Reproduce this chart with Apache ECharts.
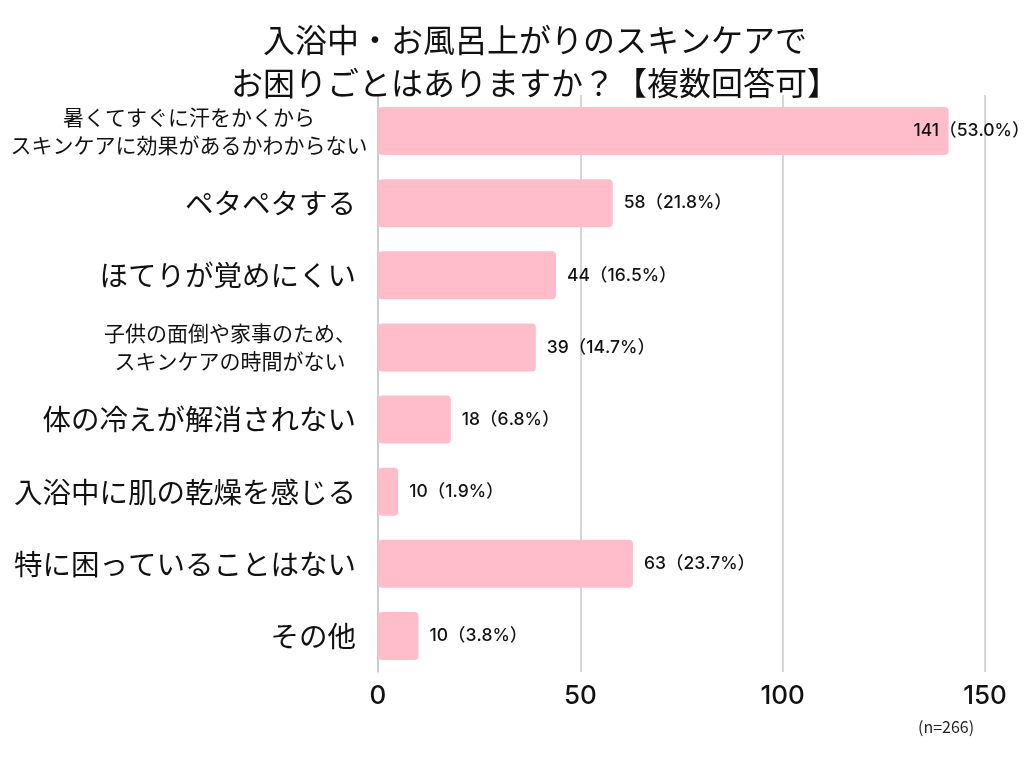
<!DOCTYPE html>
<html>
<head>
<meta charset="utf-8">
<script src="https://cdn.jsdelivr.net/npm/echarts@6/dist/echarts.min.js"></script>
<style>
    html, body { margin: 0; padding: 0; background: #fff; }
    #ET1 { width: 1024px; height: 768px; }
</style>
</head>
<body>
<div id="ET1"></div>
<script>
var categories = [
    '暑くてすぐに汗をかくから\nスキンケアに効果があるかわからない',
    'ペタペタする',
    'ほてりが覚めにくい',
    '子供の面倒や家事のため、\nスキンケアの時間がない',
    '体の冷えが解消されない',
    '入浴中に肌の乾燥を感じる',
    '特に困っていることはない',
    'その他'
];
// bar lengths as drawn in the picture
var values = [141, 58, 44, 39, 18, 5, 63, 10];
// label texts as printed next to the bars
var labelTexts = ['141（53.0%）', '58（21.8%）', '44（16.5%）', '39（14.7%）', '18（6.8%）', '10（1.9%）', '63（23.7%）', '10（3.8%）'];
var xTicks = [0, 50, 100, 150];

~function () {
    var myChart = echarts.init(ET1);
    var numFont = 'Inter, "Noto Sans CJK JP", sans-serif';
    var jpFont = '"Noto Sans CJK JP", sans-serif';
    var option = {
        animation: false,
        backgroundColor: '#fff',
        title: {
            text: '入浴中・お風呂上がりのスキンケアで\nお困りごとはありますか？【複数回答可】',
            left: 530,
            textAlign: 'center',
            top: 13,
            textStyle: {
                fontFamily: jpFont,
                fontSize: 32,
                lineHeight: 43,
                fontWeight: 'normal',
                color: '#111'
            }
        },
        graphic: [
            {
                type: 'text',
                left: 918,
                top: 719,
                style: {
                    text: '(n=266)',
                    fontFamily: '"Noto Sans CJK JP", sans-serif',
                    fontSize: 16,
                    fill: '#222'
                }
            }
        ],
        grid: {
            left: 378,
            right: 39,
            top: 95,
            bottom: 96,
            outerBoundsMode: 'none'
        },
        xAxis: {
            type: 'value',
            min: xTicks[0],
            max: xTicks[xTicks.length - 1],
            interval: xTicks[1] - xTicks[0],
            axisLine: {show: false},
            axisTick: {show: false},
            axisLabel: {
                margin: 11,
                fontFamily: numFont,
                fontSize: 26,
                fontWeight: 500,
                color: '#111'
            },
            splitLine: {
                lineStyle: {color: '#c8c8c8', width: 1.5}
            }
        },
        yAxis: {
            type: 'category',
            inverse: true,
            data: categories,
            axisLine: {lineStyle: {color: '#c8c8c8', width: 1.5}},
            axisTick: {show: false},
            axisLabel: {
                margin: 22,
                formatter: function (v, idx) {
                    if (v.indexOf('\n') >= 0) {
                        // the widest label runs a bit past the others
                        var st = idx === 0 ? 'w' : 's';
                        return v.split('\n').map(function (s) {
                            return '{' + st + '|' + s + '}';
                        }).join('\n');
                    }
                    return '{b|' + v + '}';
                },
                rich: {
                    b: {
                        fontFamily: jpFont,
                        fontSize: 28.5,
                        color: '#111',
                        lineHeight: 34
                    },
                    s: {
                        fontFamily: jpFont,
                        fontSize: 21,
                        color: '#111',
                        lineHeight: 28,
                        align: 'center'
                    },
                    w: {
                        fontFamily: jpFont,
                        fontSize: 21,
                        color: '#111',
                        lineHeight: 28,
                        width: 334,
                        align: 'center'
                    }
                }
            }
        },
        series: [
            {
                type: 'bar',
                barWidth: 48,
                data: values.map(function (v, i) {
                    if (i === 0) {
                        return {value: v, label: {offset: [-46, 0]}};
                    }
                    return v;
                }),
                itemStyle: {
                    color: '#ffbdc9',
                    borderRadius: 4
                },
                label: {
                    show: true,
                    position: 'right',
                    distance: 11,
                    fontFamily: numFont,
                    fontSize: 17.5,
                    fontWeight: 500,
                    color: '#111',
                    formatter: function (p) {
                        return labelTexts[p.dataIndex];
                    }
                }
            }
        ]
    };
    myChart.setOption(option);
}();
</script>
</body>
</html>
